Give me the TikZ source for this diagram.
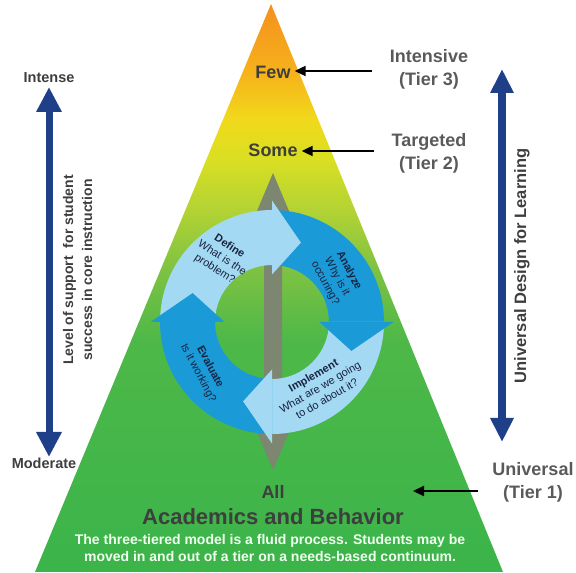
\documentclass[tikz,border=0pt]{standalone}
\usepackage{fontspec}
\setmainfont{Liberation Sans}
\usetikzlibrary{arrows.meta}
\definecolor{navy}{HTML}{1F3F88}
\definecolor{lb}{HTML}{A3D9F3}
\definecolor{db}{HTML}{1B9AD8}
\definecolor{grayarr}{HTML}{7D8670}
\definecolor{ringtext}{HTML}{1A2340}
\definecolor{labtext}{HTML}{3E3E3E}
\definecolor{tiertext}{HTML}{5A5A5A}
\definecolor{ga}{HTML}{3BB44A}
\definecolor{gb}{HTML}{4DB848}
\definecolor{gc}{HTML}{7EC242}
\definecolor{gd}{HTML}{B3D334}
\definecolor{ge}{HTML}{D9DF22}
\definecolor{gf}{HTML}{F1D91B}
\definecolor{gg}{HTML}{F6B21B}
\definecolor{gh}{HTML}{F4901E}
\pgfdeclareverticalshading{pyr}{100bp}{color(0bp)=(ga); color(25bp)=(ga); color(45.4bp)=(gb); color(51.6bp)=(gc); color(56.9bp)=(gd); color(61.3bp)=(ge); color(64.8bp)=(gf); color(69bp)=(gg); color(75bp)=(gh); color(100bp)=(gh)}
\tikzset{
  tier/.style={font=\fontsize{18}{23}\selectfont\bfseries, text=tiertext, align=center, inner sep=0pt},
  level/.style={font=\fontsize{18}{22}\selectfont\bfseries, text=labtext, inner sep=0pt},
  small/.style={font=\fontsize{14.5}{17}\selectfont\bfseries, text=labtext, inner sep=0pt},
  ringlab/.style={font=\fontsize{11}{13.5}\selectfont, text=ringtext, align=center, inner sep=0pt},
  pointer/.style={line width=2.2pt, shorten >=4pt, -{Triangle[length=11pt,width=10pt]}},
  bigarrow/.style={navy}
}
\begin{document}
\begin{tikzpicture}[x=1pt,y=1pt]
\useasboundingbox (0,0) rectangle (576,573);
% pyramid
\shade[shading=pyr] (271,569) -- (503,1) -- (35,1) -- cycle;
% gray double arrow
\fill[grayarr] (273,400) -- (289,362) -- (282,362) -- (282,141) -- (289,141) -- (273,103) -- (257,141) -- (264,141) -- (264,362) -- (257,362) -- cycle;
% cycle ring
\begin{scope}[shift={(272,251)}]
  \fill[lb] (180:57) arc[start angle=180, end angle=90, radius=57] -- (90:112) arc[start angle=90, end angle=180, radius=112] -- cycle;
  \fill[db] (90:57) arc[start angle=90, end angle=0, radius=57] -- (0:112) arc[start angle=0, end angle=90, radius=112] -- cycle;
  \fill[lb] (0:57) arc[start angle=0, end angle=-90, radius=57] -- (-90:112) arc[start angle=-90, end angle=0, radius=112] -- cycle;
  \fill[db] (-90:57) arc[start angle=-90, end angle=-180, radius=57] -- (-180:112) arc[start angle=-180, end angle=-90, radius=112] -- cycle;
  \fill[lb] (90:47.5) -- (70:84.5) -- (90:121.5) -- cycle;
  \fill[db] (0:47.5) -- (-20:84.5) -- (0:121.5) -- cycle;
  \fill[lb] (-90:47.5) -- (-110:84.5) -- (-90:121.5) -- cycle;
  \fill[db] (180:47.5) -- (160:84.5) -- (180:121.5) -- cycle;
\end{scope}
\node[ringlab, rotate=-33] (define) at (222,315) {\textbf{Define}\\What is the\\problem?};
\node[ringlab, rotate=-62] (analyze) at (337,296) {\textbf{Analyze}\\Why is it\\occuring?};
\node[ringlab, rotate=30] (implement) at (320,186) {\textbf{Implement}\\What are we going\\to do about it?};
\node[ringlab, rotate=-62] (evaluate) at (204,203) {\textbf{Evaluate}\\Is it working?};
% level labels
\node[level] (few) at (273,501) {Few};
\node[level] (some) at (273,423) {Some};
\node[level] (all) at (273,81) {All};
\node[font=\fontsize{22}{26}\selectfont\bfseries, text=labtext, inner sep=0pt] (acad) at (273,56) {Academics and Behavior};
\node[font=\fontsize{14}{17}\selectfont\bfseries, text=white!94!green, align=center, inner sep=0pt] (note) at (270,25) {The three-tiered model is a fluid process. Students may be\\moved in and out of a tier on a needs-based continuum.};
% tier labels
\node[tier] (t3) at (429,503.5) {Intensive\\(Tier 3)};
\node[tier] (t2) at (429,420) {Targeted\\(Tier 2)};
\node[tier] (t1) at (533,90.5) {Universal\\(Tier 1)};
\coordinate (p3) at (372,502);
\coordinate (p2) at (374,422);
\coordinate (p1) at (478,82);
\coordinate (p1end) at (413,82);
\draw[pointer] (p3) -- (few.east |- p3);
\draw[pointer] (p2) -- (some.east |- p2);
\draw[pointer, shorten >=0pt] (p1) -- (p1end);
% left arrow
\node[small] (intense) at (49,495) {Intense};
\node[small] (moderate) at (44,110) {Moderate};
\coordinate (ltop) at (49,486);
\coordinate (lbot) at (49,116);
\draw[bigarrow, line width=7pt, {Triangle[length=25pt,width=24pt]}-{Triangle[length=25pt,width=24pt]}] (ltop) -- (lbot);
\node[font=\fontsize{14}{19}\selectfont\bfseries, text=labtext, align=center, rotate=90, inner sep=0pt] (lvl) at (77.5,303) {Level of support\ \ for student\\success in core instruction};
% right arrow
\coordinate (rtop) at (502,504);
\coordinate (rbot) at (502,131);
\draw[bigarrow, line width=8pt, {Triangle[length=24pt,width=22pt]}-{Triangle[length=24pt,width=22pt]}] (rtop) -- (rbot);
\node[font=\fontsize{16.5}{20}\selectfont\bfseries, text=labtext, rotate=90, inner sep=0pt] (udl) at (522,307) {Universal Design for Learning};
\end{tikzpicture}
\end{document}
